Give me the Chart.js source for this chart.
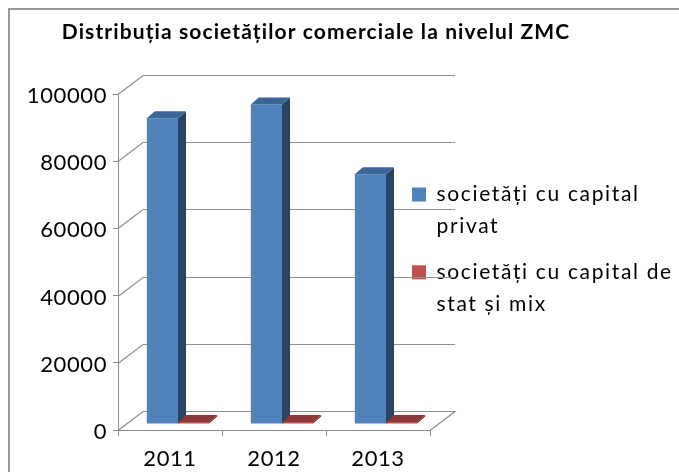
<!DOCTYPE html>
<html>
<head>
<meta charset="utf-8">
<title>Distribuția societăților comerciale</title>
<script src="https://cdn.jsdelivr.net/npm/chart.js@4"></script>
<style>
  html, body { margin: 0; padding: 0; background: #fff; }
  #wrap { width: 679px; height: 472px; }
</style>
</head>
<body>
<div id="wrap"><canvas id="chart" width="679" height="472"></canvas></div>
<script>
const chartTitle = "Distribuția societăților comerciale la nivelul ZMC";
const years = ["2011", "2012", "2013"];
const privat = [91000, 95100, 74300];
const statMix = [600, 600, 600];
const privatLabel = ["societăți cu capital", "privat"];
const statLabel = ["societăți cu capital de", "stat și mix"];
const yTicks = [0, 20000, 40000, 60000, 80000, 100000];

const GRID = "#8e8e8e";
const WALL_DX = 25, WALL_DY = -19; // perspectiva peretelui din spate
const BAR_DX = 8, BAR_DY = -6;     // barele stau putin mai in spate
const SIDE_DX = 8, SIDE_DY = -7;   // adancimea barei

const sideColors = ["#2a4363", "#6e2c2a"];
const topColors = ["#3b6595", "#8d3a38"];

function poly(ctx, pts, fill) {
  ctx.beginPath();
  pts.forEach((p, i) => i ? ctx.lineTo(p[0], p[1]) : ctx.moveTo(p[0], p[1]));
  ctx.closePath();
  ctx.fillStyle = fill;
  ctx.fill();
}

// Spatiere intre litere pentru un bloc de text
function withSpacing(box, ctx, spacing) {
  if (box._spaced) return;
  const draw = box.draw;
  box.draw = function (...args) {
    ctx.save();
    ctx.letterSpacing = spacing;
    draw.apply(this, args);
    ctx.restore();
  };
  box._spaced = true;
}

// Pereti si podea 3D
const wallsPlugin = {
  id: "walls",
  beforeDatasetsDraw(chart) {
    const { ctx, scales: { x, y } } = chart;
    ctx.save();
    ctx.strokeStyle = GRID;
    ctx.lineWidth = 1.2;
    yTicks.forEach(v => {
      const py = Math.round(y.getPixelForValue(v)) + 0.5;
      ctx.beginPath();
      ctx.moveTo(x.left, py);
      ctx.lineTo(x.left + WALL_DX, py + WALL_DY);
      ctx.lineTo(x.right + WALL_DX, py + WALL_DY);
      if (v === 0) ctx.lineTo(x.right, py);
      ctx.stroke();
    });
    ctx.restore();
    ctx.save();
    ctx.translate(BAR_DX, BAR_DY);
  },
  afterDatasetsDraw(chart) {
    const ctx = chart.ctx;
    chart.data.datasets.forEach((ds, i) => {
      chart.getDatasetMeta(i).data.forEach(bar => {
        const l = bar.x - bar.width / 2, r = bar.x + bar.width / 2;
        const t = bar.y, b = bar.base;
        poly(ctx, [[r, t], [r + SIDE_DX, t + SIDE_DY], [r + SIDE_DX, b + SIDE_DY], [r, b]], sideColors[i]);
        poly(ctx, [[l, t], [l + SIDE_DX, t + SIDE_DY], [r + SIDE_DX, t + SIDE_DY], [r, t]], topColors[i]);
      });
    });
    ctx.restore();
  }
};

// Legenda se suprapune peste zona graficului, ca in original
const layoutPlugin = {
  id: "layoutFix",
  afterLayout(chart) {
    const lg = chart.legend;
    lg.left = 398; lg.right = 679; lg.width = 281;
    lg.top = 170; lg.bottom = 472; lg.height = 302;
    const tt = chart.titleBlock;
    tt.left = 0; tt.right = 632; tt.width = 632;
    withSpacing(lg, chart.ctx, "1.65px");
    withSpacing(tt, chart.ctx, "1.1px");
  },
  beforeDraw(chart) {
    const ctx = chart.ctx;
    ctx.letterSpacing = "0.6px"; // etichetele axelor
    ctx.save();
    ctx.strokeStyle = "#999";
    ctx.lineWidth = 2;
    ctx.beginPath();
    ctx.moveTo(9, 472);
    ctx.lineTo(9, 9);
    ctx.lineTo(679, 9);
    ctx.stroke();
    ctx.restore();
  }
};

new Chart(document.getElementById("chart"), {
  type: "bar",
  data: {
    labels: years,
    datasets: [
      { label: privatLabel, data: privat, backgroundColor: "#4f81bd", categoryPercentage: 0.6, barPercentage: 1 },
      { label: statLabel, data: statMix, backgroundColor: "#c0504d", categoryPercentage: 0.6, barPercentage: 1 }
    ]
  },
  options: {
    responsive: false,
    animation: false,
    layout: { padding: { left: 0, right: 248, top: 0, bottom: 0 } },
    plugins: {
      title: {
        display: true,
        text: chartTitle,
        color: "#000",
        font: { family: "Lato", size: 21, weight: "bold", lineHeight: 1.2 },
        padding: { top: 20, bottom: 48.8 }
      },
      legend: {
        position: "right",
        maxWidth: 1,
        align: "start",
        labels: {
          boxWidth: 14,
          boxHeight: 14,
          padding: 14,
          color: "#000",
          font: { family: "Lato", size: 21, lineHeight: 1.52 },
          generateLabels(chart) {
            return chart.data.datasets.map((ds, i) => ({
              text: ds.label,
              fillStyle: ds.backgroundColor,
              lineWidth: 0,
              strokeStyle: ds.backgroundColor,
              datasetIndex: i
            }));
          }
        }
      },
      tooltip: { enabled: false }
    },
    scales: {
      x: {
        grid: { drawOnChartArea: false, color: GRID, tickLength: 6 },
        border: { color: GRID },
        ticks: { color: "#000", font: { family: "Lato", size: 22 }, padding: 10, maxRotation: 0 },
        afterFit(s) { s.height = 42; }
      },
      y: {
        min: 0,
        max: 100000,
        afterBuildTicks(s) { s.ticks = yTicks.map(v => ({ value: v })); },
        grid: { drawOnChartArea: false, color: GRID, tickLength: 5 },
        border: { color: GRID },
        ticks: { color: "#000", font: { family: "Lato", size: 22 }, padding: 6, labelOffset: 2, callback: v => String(v) },
        afterFit(s) { s.width = 118; }
      }
    }
  },
  plugins: [wallsPlugin, layoutPlugin]
});
</script>
</body>
</html>
